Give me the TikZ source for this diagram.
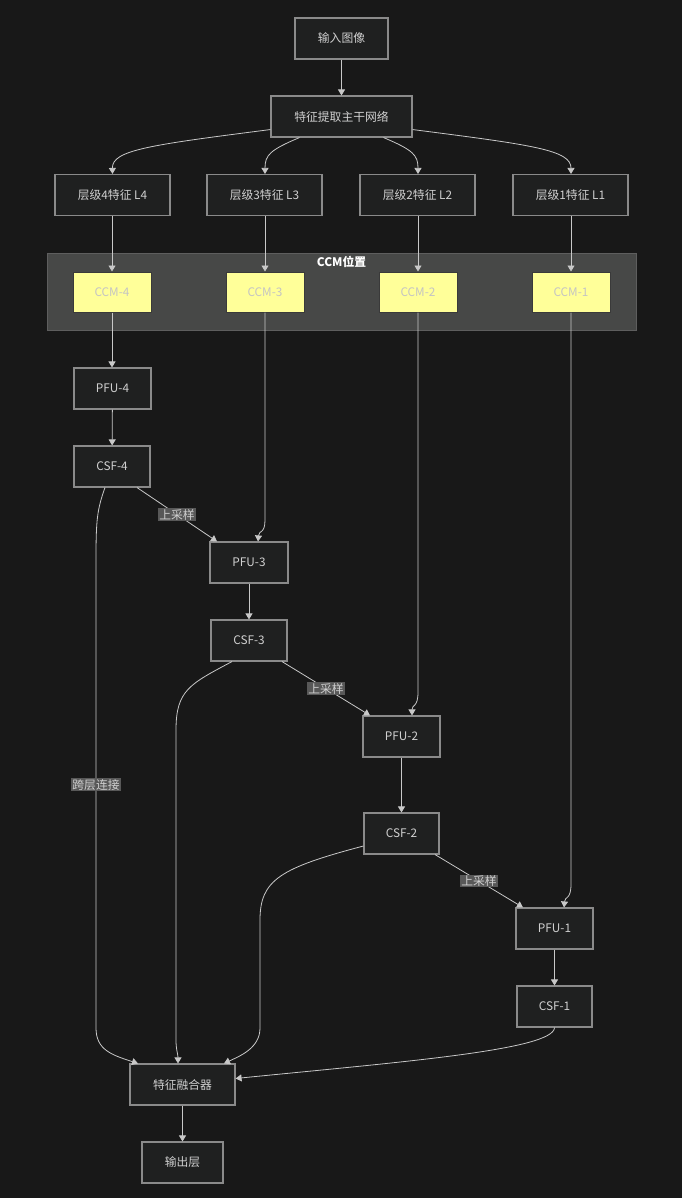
\documentclass[tikz,border=0pt]{standalone}
\usepackage{fontspec}
\setmainfont{Noto Sans CJK SC}
\usetikzlibrary{arrows.meta,calc}
\definecolor{bgc}{HTML}{181818}
\definecolor{nodefill}{HTML}{1F2020}
\definecolor{nodeborder}{HTML}{8A8A8A}
\definecolor{txt}{HTML}{D0D0D0}
\definecolor{edgec}{HTML}{C8C8C8}
\definecolor{lblbg}{HTML}{585858}
\definecolor{clfill}{HTML}{474847}
\definecolor{clborder}{HTML}{5E5E5E}
\definecolor{ccmfill}{HTML}{FFFF99}
\definecolor{ccmborder}{HTML}{3A3A3A}
\tikzset{
  box/.style={draw=nodeborder, line width=1.1pt, fill=nodefill, text=txt, inner sep=0pt,
    minimum height=41pt, font=\fontsize{11.8}{14}\selectfont},
  ccmbox/.style={draw=ccmborder, line width=1pt, fill=ccmfill, text=txt!85!gray, inner sep=0pt,
    minimum width=78pt, minimum height=40pt, font=\fontsize{11.8}{14}\selectfont},
  conn/.style={draw=edgec, line width=0.8pt, -{Triangle[width=7pt,length=6pt]}},
  elabel/.style={fill=lblbg, text=txt, inner sep=1pt, font=\fontsize{11.8}{14}\selectfont},
}
\begin{document}
\begin{tikzpicture}[x=1pt,y=-1pt]
\path[use as bounding box, fill=bgc] (0,0) rectangle (682,1198);
% cluster
\node[draw=clborder, line width=1pt, fill=clfill, minimum width=589pt, minimum height=77pt, inner sep=0pt] (cl) at (341.5,291.5) {};
\node[text=white, font=\fontsize{11.8}{14}\selectfont\bfseries] (cllab) at (341.5,262) {CCM位置};
% nodes
\node[box, minimum width=93pt] (in) at (341.5,38.5) {输入图像};
\node[box, minimum width=141pt] (bb) at (341.5,116.5) {特征提取主干网络};
\node[box, minimum width=115pt] (l4) at (112.5,195) {层级4特征 L4};
\node[box, minimum width=115pt] (l3) at (264.5,195) {层级3特征 L3};
\node[box, minimum width=115pt] (l2) at (417.5,195) {层级2特征 L2};
\node[box, minimum width=115pt] (l1) at (570.5,195) {层级1特征 L1};
\node[ccmbox] (c4) at (112,292) {CCM-4};
\node[ccmbox] (c3) at (265,292) {CCM-3};
\node[ccmbox] (c2) at (418,292) {CCM-2};
\node[ccmbox] (c1) at (571,292) {CCM-1};
\node[box, minimum width=77pt] (p4) at (112.5,388.5) {PFU-4};
\node[box, minimum width=76pt] (s4) at (112,466.5) {CSF-4};
\node[box, minimum width=78pt] (p3) at (249,562.5) {PFU-3};
\node[box, minimum width=76pt] (s3) at (249,640.5) {CSF-3};
\node[box, minimum width=77pt] (p2) at (401.5,736.5) {PFU-2};
\node[box, minimum width=75pt] (s2) at (401.5,833.5) {CSF-2};
\node[box, minimum width=77pt] (p1) at (554.5,928.5) {PFU-1};
\node[box, minimum width=75pt] (s1) at (554.5,1006.5) {CSF-1};
\node[box, minimum width=105pt] (fu) at (182.5,1084.5) {特征融合器};
\node[box, minimum width=81pt] (out) at (182.5,1162.5) {输出层};
% edges
\draw[conn] (in) -- (bb);
\draw[conn] ([yshift=8pt]bb.south west) .. controls (150,145) and (112,150) .. (l4.north);
\draw[conn] ([xshift=-42pt]bb.south) .. controls (270,150) and (265,155) .. (l3.north -| c3.north);
\draw[conn] ([xshift=42pt]bb.south) .. controls (413,150) and (418,155) .. (l2.north -| c2.north);
\draw[conn] ([yshift=8pt]bb.south east) .. controls (533,145) and (571,150) .. (l1.north -| c1.north);
\draw[conn] (l4.south -| c4.north) -- (c4.north);
\draw[conn] (l3.south -| c3.north) -- (c3.north);
\draw[conn] (l2.south -| c2.north) -- (c2.north);
\draw[conn] (l1.south -| c1.north) -- (c1.north);
\draw[conn] (c4.south) -- (p4.north -| c4.south);
\draw[conn] (p4) -- (s4);
\draw[conn] ([xshift=25pt]s4.south) -- node[elabel] (u3) {上采样} ([xshift=-32pt]p3.north);
\draw[conn] (c3.south) -- (265,520) .. controls (265,534) and (259,530) .. ([xshift=9pt]p3.north);
\draw[conn] (p3) -- (s3);
\draw[conn] ([xshift=33pt]s3.south) -- node[elabel] (u2) {上采样} ([xshift=-31.5pt]p2.north);
\draw[conn] (c2.south) -- (418,692) .. controls (418,708) and (412,704) .. ([xshift=10.5pt]p2.north);
\draw[conn] (p2) -- (s2);
\draw[conn] ([xshift=33.5pt]s2.south) -- node[elabel] (u1) {上采样} ([xshift=-31.5pt]p1.north);
\draw[conn] (c1.south) -- (571,884) .. controls (571,900) and (565,896) .. ([xshift=9.5pt]p1.north);
\draw[conn] (p1) -- (s1);
\draw[conn] ([xshift=-7pt]s4.south) .. controls (97,510) and (96,520) .. (96,560) -- node[elabel, pos=0.48] (skip) {跨层连接} (96,1028) .. controls (96,1050) and (112,1055) .. ([xshift=-44.5pt]fu.north);
\draw[conn] ([xshift=-17pt]s3.south) .. controls (190,684) and (176,690) .. (176,730) -- (176,1040) .. controls (176,1050) and (178,1054) .. ([xshift=-4.5pt]fu.north);
\draw[conn] ([yshift=-12.5pt]s2.west) .. controls (280,868) and (260,880) .. (260,920) -- (260,1028) .. controls (260,1048) and (240,1056) .. ([xshift=41.5pt]fu.north);
\draw[conn] (s1.south) .. controls (554,1050) and (400,1062) .. ([yshift=6pt]fu.east);
\draw[conn] (fu) -- (out);
\end{tikzpicture}
\end{document}
